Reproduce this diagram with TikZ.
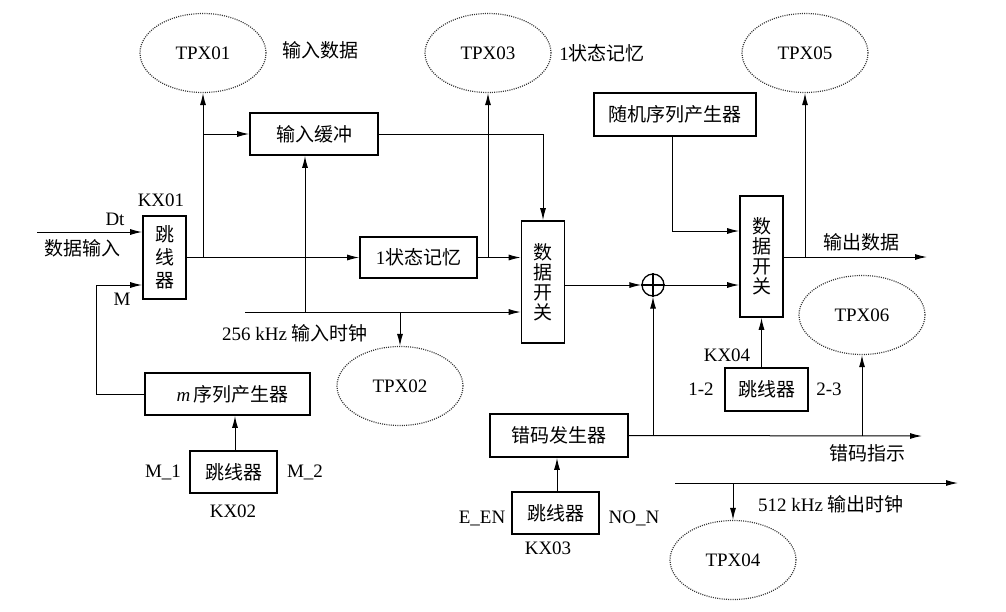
\documentclass[tikz,border=0pt]{standalone}
\usepackage{fontspec}
\setmainfont{Liberation Serif}
\newfontfamily\cjk{Noto Sans CJK SC}
\usetikzlibrary{arrows.meta,shapes.geometric}
\newcommand\bigsz{\fontsize{19}{20}\selectfont}
\tikzset{
  blk/.style={draw,line width=1.6pt,inner sep=0pt,font=\bigsz\cjk},
  vblk/.style={blk,align=center,minimum width=43pt},
  tp/.style={draw=black!80,dash pattern=on 1pt off 1.2pt,line width=1.2pt,ellipse,
    minimum width=126pt,minimum height=79pt,inner sep=0pt},
  lbl/.style={inner sep=0pt},
  zh/.style={inner sep=0pt,font=\bigsz\cjk},
  arr/.style={-{Latex[length=12pt,width=6pt]}},
}
\begin{document}
\begin{tikzpicture}[x=1pt,y=-1pt,line width=1pt,font=\bigsz]
\useasboundingbox (0,0) rectangle (1006,611);
% test points
\node[tp] (tpx01) at (203,53) {TPX01};
\node[tp] (tpx02) at (400,386) {TPX02};
\node[tp] (tpx03) at (488,53) {TPX03};
\node[tp] (tpx04) at (733,560) {TPX04};
\node[tp] (tpx05) at (805,53) {TPX05};
\node[tp] (tpx06) at (862,315) {TPX06};
% blocks
\node[vblk,minimum height=83pt] (kx01) at (164.5,257.5) {跳\\[3pt]线\\[3pt]器};
\node[blk,minimum width=128pt,minimum height=42pt] (buf) at (314,134) {输入缓冲};
\node[blk,minimum width=117pt,minimum height=41pt] (mem) at (418.5,257.5) {{\rmfamily 1}状态记忆};
\node[vblk,minimum height=122pt] (sw1) at (543,282) {数\\据\\开\\关};
\node[draw,circle,minimum size=22pt,inner sep=0pt,line width=1.3pt] (xor) at (653,285) {};
\node[vblk,minimum height=121pt] (sw2) at (761.5,256.5) {数\\据\\开\\关};
\node[blk,minimum width=162pt,minimum height=43pt] (rnd) at (675,114.5) {随机序列产生器};
\node[blk,minimum width=165pt,minimum height=42pt] (mseq) at (227.5,394) {\hspace{10pt}{\rmfamily\itshape m}\,序列产生器};
\node[blk,minimum width=87pt,minimum height=42pt] (kx02) at (233.5,472) {跳线器};
\node[blk,minimum width=138pt,minimum height=43pt] (errg) at (559,435.5) {错码发生器};
\node[blk,minimum width=87pt,minimum height=42pt] (kx03) at (555.5,513) {跳线器};
\node[blk,minimum width=83pt,minimum height=43pt] (kx04) at (766.5,389.5) {跳线器};
\draw[line width=1.1pt] (xor.north) -- (xor.south) (xor.west) -- (xor.east);
% free ends and junctions
\coordinate (din) at (37,232);
\coordinate (mj) at (96,285);
\coordinate (clk) at (245,312);
\coordinate (rj) at (672,231);
\coordinate (dout) at (927,257);
\coordinate (eout) at (922,436);
\coordinate (ck2) at (675,483);
\coordinate (ck2e) at (958,483);
% connectors
\draw[arr] (din) -- (din -| kx01.west);
\draw[arr] (mseq.west) -| (mj) -- (mj -| kx01.west);
\draw[arr] (kx01.east |- mem.west) -- (mem.west);
\draw[arr] (tpx01.south |- mem.west) -- (tpx01.south);
\draw[arr] (tpx01.south |- buf.west) -- (buf.west);
\draw[arr] (buf.east) -| (sw1.north);
\draw[arr] (mem.east) -- (mem.east -| sw1.west);
\draw[arr] (tpx03.south |- mem.east) -- (tpx03.south);
\draw[arr] (clk) -- (clk -| sw1.west);
\draw[arr] ([xshift=-9pt]buf.south |- clk) -- ([xshift=-9pt]buf.south);
\draw[arr] (tpx02.north |- clk) -- (tpx02.north);
\draw[arr] (sw1.east |- xor.west) -- (xor.west);
\draw[arr] (xor.east) -- (xor.east -| sw2.west);
\draw[arr] (rj |- rnd.south) -- (rj) -- (rj -| sw2.west);
\draw[arr] (sw2.east |- dout) -- (dout);
\draw[arr] (tpx05.south |- dout) -- (tpx05.south);
\draw[arr] (errg.east) -- (eout);
\draw[arr] (xor.south |- eout) -- (xor.south);
\draw[arr] (tpx06.south |- eout) -- (tpx06.south);
\draw[arr] (sw2.south |- kx04.north) -- (sw2.south);
\draw[arr] ([xshift=1.5pt]kx03.north) -- ([xshift=1.5pt]kx03.north |- errg.south);
\draw[arr] ([xshift=1.5pt]kx02.north) -- ([xshift=1.5pt]kx02.north |- mseq.south);
\draw[arr] (ck2) -- (ck2e);
\draw[arr] (tpx04.north |- ck2) -- (tpx04.north);
% labels
\node[zh] (l1) at (320,50) {输入数据};
\node[lbl] (l3) at (602,53) {1{\cjk 状态记忆}};
\node[lbl] (lkx01) at (161,200) {KX01};
\node[lbl] (ldt) at (115,219) {Dt};
\node[zh] (ldin) at (82,248) {数据输入};
\node[lbl] (lm) at (122,299) {M};
\node[lbl] (lclk) at (295,333) {256 kHz {\cjk 输入时钟}};
\node[zh] (lout) at (861,242) {输出数据};
\node[lbl] (lkx04) at (727,355) {KX04};
\node[lbl] (l12) at (701,389) {1-2};
\node[lbl] (l23) at (829,389) {2-3};
\node[zh] (lerr) at (867,453) {错码指示};
\node[lbl] (lck2) at (831,504) {512 kHz {\cjk 输出时钟}};
\node[lbl] (leen) at (482,518) {E\_EN};
\node[lbl] (lnon) at (634,518) {NO\_N};
\node[lbl] (lkx03) at (548,548) {KX03};
\node[lbl] (lm1) at (163,472) {M\_1};
\node[lbl] (lm2) at (305,472) {M\_2};
\node[lbl] (lkx02) at (233,511) {KX02};
\end{tikzpicture}
\end{document}
